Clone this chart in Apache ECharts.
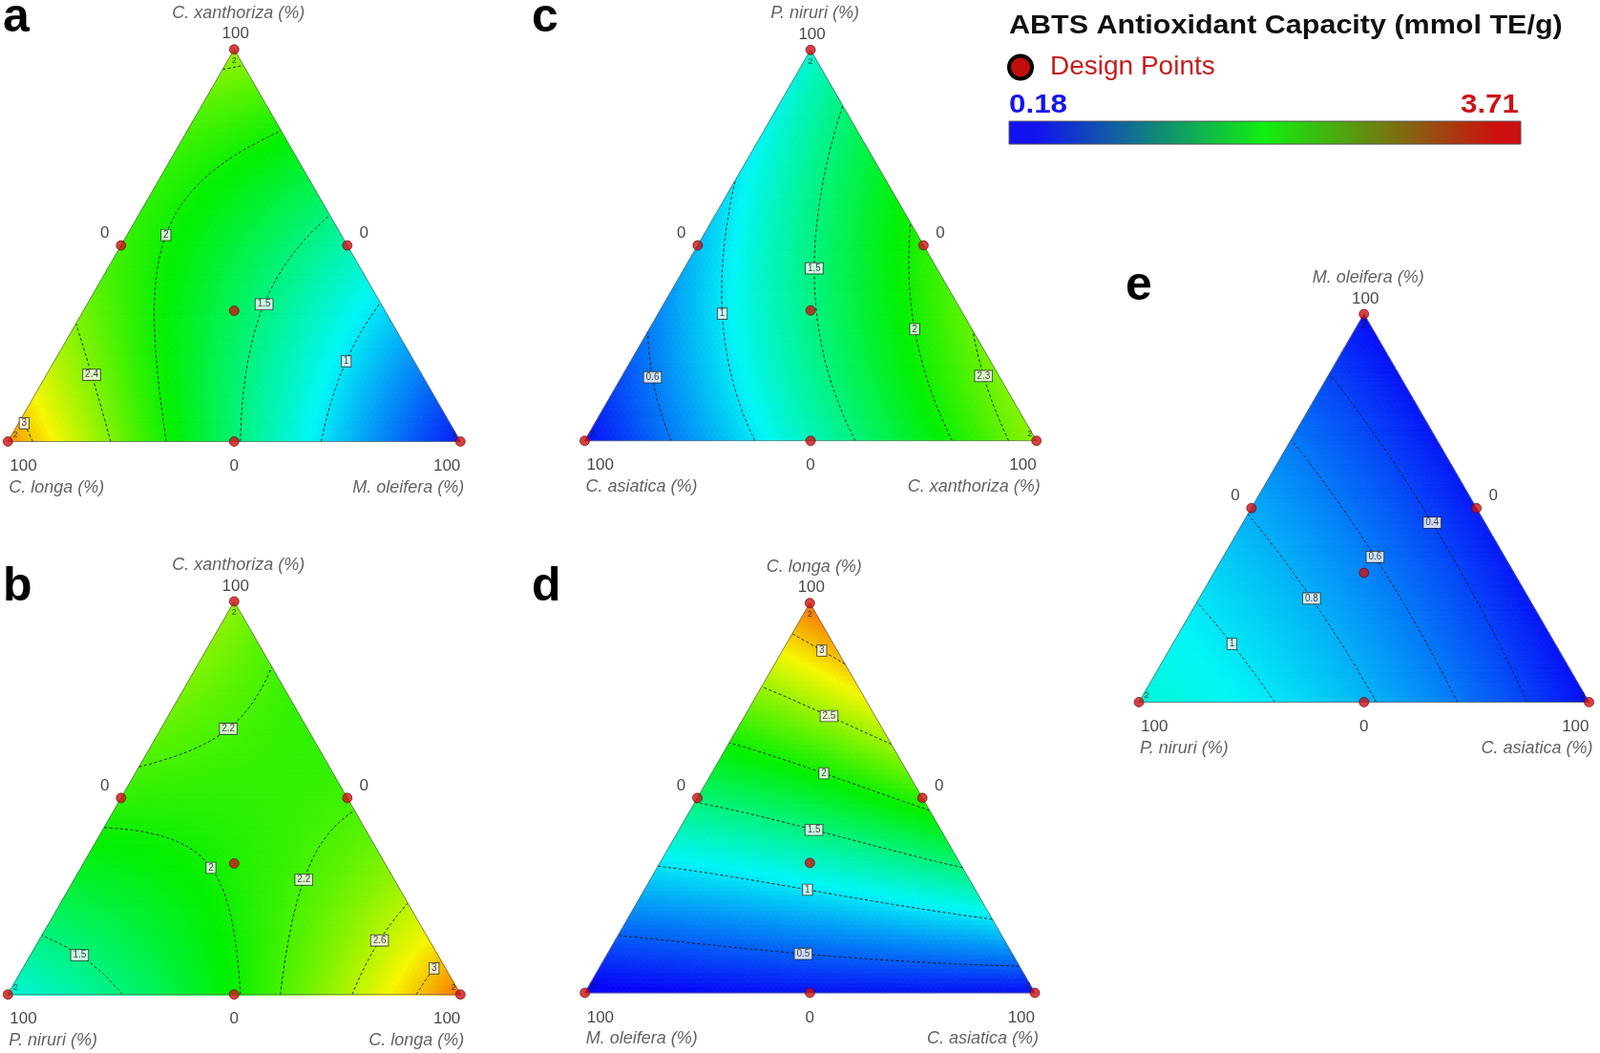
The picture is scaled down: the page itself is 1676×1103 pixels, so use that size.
<!DOCTYPE html>
<html>
<head>
<meta charset="utf-8">
<script src="https://cdn.jsdelivr.net/npm/echarts@6/dist/echarts.min.js"></script>
<style>
html,body{margin:0;padding:0;background:#fff;}
#chart{width:1676px;height:1103px;}
</style>
</head>
<body>
<div id="chart"></div>
<script>
// ---------------- DATA ----------------
const panelLetters   = ['a', 'b', 'c', 'd', 'e'];
const topComponent   = ['C. xanthoriza', 'C. xanthoriza', 'P. niruri', 'C. longa', 'M. oleifera'];
const leftComponent  = ['C. longa', 'P. niruri', 'C. asiatica', 'M. oleifera', 'P. niruri'];
const rightComponent = ['M. oleifera', 'C. longa', 'C. xanthoriza', 'C. asiatica', 'C. asiatica'];

// design points: proportions of (top, left, right) component
const designTop   = [1, 0, 0, 0.5, 0,   0.5, 1/3];
const designLeft  = [0, 1, 0, 0.5, 0.5, 0,   1/3];
const designRight = [0, 0, 1, 0,   0.5, 0.5, 1/3];

// ABTS response (mmol TE/g) at the design points, one value per panel a..e
const respTopVertex    = [2.50, 2.45, 1.20, 3.30, 0.20];
const respLeftVertex   = [3.20, 1.15, 0.20, 0.12, 1.18];
const respRightVertex  = [0.25, 3.30, 2.45, 0.20, 0.20];
const respTopLeftMid   = [2.15, 2.105, 0.85, 1.535, 0.785];
const respLeftRightMid = [1.54, 1.97, 1.275, 0.22, 0.8275];
const respTopRightMid  = [1.325, 2.17, 2.075, 2.10, 0.25];
const respCentroid     = [1.625, 2.045, 1.47, 1.22, 0.65];

const contourLevels = [
  [3, 2.4, 2, 1.5, 1],
  [3, 2.6, 2.2, 2, 1.5],
  [2.3, 2, 1.5, 1, 0.6],
  [3, 2.5, 2, 1.5, 1, 0.5],
  [1, 0.8, 0.6, 0.4]
];
const replicateCounts = [[2, 2, 2], [2, 2, 2], [2, 2, 2], [2, 2, 2], [2, 2, 2]];
const vertexTick = '100';
const zeroTick = '0';
const colorMin = 0.18;
const colorMax = 3.71;
const legendTitle = 'ABTS Antioxidant Capacity (mmol TE/g)';
const legendPoints = 'Design Points';

// ---------------- LAYOUT ----------------
const panelBox = [
  [8.3, 51.7, 474, 410.8],
  [8.3, 630, 474, 411.7],
  [612.5, 52.3, 473.2, 409.4],
  [612.7, 631.7, 471.3, 408.3],
  [1193, 329, 471.5, 406.5]
];
const letterPos = [[3, 36.7], [3, 633], [557, 36.7], [557, 633], [1179, 318]];
// approximate places of the contour labels (x across base, y = height fraction)
const contourLabelHints = [
  [[3,0.039,0.047],[2.4,0.197,0.176],[2,0.373,0.517],[1.5,0.572,0.352],[1,0.728,0.217]],
  [[2.2,0.489,0.672],[2,0.450,0.317],[2.2,0.661,0.291],[2.6,0.801,0.155],[1.5,0.158,0.101],[3,0.964,0.053]],
  [[0.6,0.170,0.168],[1,0.322,0.330],[1.5,0.512,0.44],[2,0.724,0.281],[2.3,0.879,0.165]],
  [[3,0.528,0.878],[2.5,0.537,0.694],[2,0.525,0.551],[1.5,0.5105,0.414],[1,0.4999,0.274],[0.5,0.486,0.110]],
  [[0.4,0.653,0.465],[0.6,0.526,0.375],[0.8,0.395,0.278],[1,0.239,0.179]]
];
const MESH = 80;
const FONT = '"Liberation Sans", Arial, Helvetica, sans-serif';

// ---------------- MODEL (Scheffe special cubic through the design points) ----------------
function predict(p, T, L, R) {
  const yT = respTopVertex[p], yL = respLeftVertex[p], yR = respRightVertex[p];
  const mTL = respTopLeftMid[p], mLR = respLeftRightMid[p], mTR = respTopRightMid[p];
  const bTL = 4 * mTL - 2 * (yT + yL);
  const bLR = 4 * mLR - 2 * (yL + yR);
  const bTR = 4 * mTR - 2 * (yT + yR);
  const b123 = 27 * respCentroid[p] - 12 * (mTL + mLR + mTR) + 3 * (yT + yL + yR);
  return yT * T + yL * L + yR * R + bTL * T * L + bLR * L * R + bTR * T * R + b123 * T * L * R;
}
function toXY(T, L, R) { return [R + T / 2, T]; }

function buildPanel(p) {
  const N = MESH;
  const rowStart = []; let count = 0;
  for (let i = 0; i <= N; i++) { rowStart.push(count); count += N - i + 1; }
  const id = (i, c) => rowStart[i] + c;
  const X = new Float64Array(count), Y = new Float64Array(count), V = new Float64Array(count);
  for (let i = 0; i <= N; i++) {
    for (let c = 0; c <= N - i; c++) {
      const T = i / N, R = c / N, L = Math.max(0, 1 - T - R);
      const k = id(i, c);
      const xy = toXY(T, L, R);
      X[k] = xy[0]; Y[k] = xy[1]; V[k] = predict(p, T, L, R);
    }
  }
  const tris = [];
  for (let i = 0; i < N; i++) {
    for (let c = 0; c < N - i; c++) {
      tris.push([id(i, c), id(i, c + 1), id(i + 1, c)]);
      if (c < N - i - 1) tris.push([id(i, c + 1), id(i + 1, c + 1), id(i + 1, c)]);
    }
  }
  const field = tris.map(t => [X[t[0]], Y[t[0]], X[t[1]], Y[t[1]], X[t[2]], Y[t[2]],
    (V[t[0]] + V[t[1]] + V[t[2]]) / 3]);

  const contours = [];
  contourLevels[p].forEach(lv => {
    const segs = []; const pts = new Map();
    tris.forEach(t => {
      const cross = [];
      [[t[0], t[1]], [t[1], t[2]], [t[2], t[0]]].forEach(e => {
        const u = e[0], w = e[1];
        const du = V[u] - lv, dw = V[w] - lv;
        if ((du < 0) !== (dw < 0)) {
          const key = u < w ? u * 1e6 + w : w * 1e6 + u;
          if (!pts.has(key)) {
            const s = du / (du - dw);
            pts.set(key, [X[u] + s * (X[w] - X[u]), Y[u] + s * (Y[w] - Y[u])]);
          }
          cross.push(key);
        }
      });
      if (cross.length === 2) segs.push(cross);
    });
    const adj = new Map();
    segs.forEach((s, k) => s.forEach(key => { if (!adj.has(key)) adj.set(key, []); adj.get(key).push(k); }));
    const used = new Uint8Array(segs.length);
    const walk = start => {
      const chain = [pts.get(start)]; let cur = start;
      while (true) {
        let nxt = -1;
        for (const k of adj.get(cur)) { if (!used[k]) { nxt = k; break; } }
        if (nxt < 0) break;
        used[nxt] = 1;
        const s = segs[nxt];
        cur = s[0] === cur ? s[1] : s[0];
        chain.push(pts.get(cur));
      }
      return chain;
    };
    const chains = [];
    for (const [key, list] of adj) if (list.length === 1 && !used[list[0]]) chains.push(walk(key));
    for (let k = 0; k < segs.length; k++) if (!used[k]) chains.push(walk(segs[k][0]));
    contours.push({ level: lv, chains: chains.filter(c => c.length > 1) });
  });
  return { field, contours };
}

// ---------------- OPTION ----------------
const grids = [], xAxes = [], yAxes = [], series = [], fieldSeriesIdx = [];
const labelBase = { show: true, position: 'inside', fontFamily: FONT, verticalAlign: 'middle' };

for (let p = 0; p < 5; p++) {
  const b = panelBox[p];
  grids.push({ left: b[0], top: b[1], width: b[2], height: b[3], containLabel: false });
  xAxes.push({ gridIndex: p, type: 'value', min: 0, max: 1, show: false });
  yAxes.push({ gridIndex: p, type: 'value', min: 0, max: 1, show: false });
  const built = buildPanel(p);

  fieldSeriesIdx.push(series.length);
  series.push({
    type: 'custom', xAxisIndex: p, yAxisIndex: p, silent: true, z: 1,
    renderItem: (params, api) => {
      const a = api.coord([api.value(0), api.value(1)]);
      const bb = api.coord([api.value(2), api.value(3)]);
      const c = api.coord([api.value(4), api.value(5)]);
      const col = api.visual('color');
      return { type: 'polygon', shape: { points: [a, bb, c] }, style: { fill: col, stroke: col, lineWidth: 0.8 } };
    },
    data: built.field
  });

  const lineData = [];
  built.contours.forEach(ct => ct.chains.forEach(ch => lineData.push({ coords: ch })));
  series.push({
    type: 'lines', coordinateSystem: 'cartesian2d', xAxisIndex: p, yAxisIndex: p,
    polyline: true, silent: true, z: 3,
    lineStyle: { color: '#111', width: 1, type: [3, 2.5], opacity: 0.9 },
    data: lineData
  });

  series.push({
    type: 'line', xAxisIndex: p, yAxisIndex: p, silent: true, z: 4, showSymbol: false,
    lineStyle: { color: '#6a6a6a', width: 0.8 },
    data: [toXY(0, 1, 0), toXY(0, 0, 1), toXY(1, 0, 0), toXY(0, 1, 0)]
  });

  const W = b[2], H = b[3];
  const labelData = [];
  contourLabelHints[p].forEach(h => {
    const ct = built.contours.find(c => c.level === h[0]);
    if (!ct) return;
    let best = null, bd = Infinity;
    ct.chains.forEach(ch => ch.forEach(pt => {
      const d = Math.pow((pt[0] - h[1]) * W, 2) + Math.pow((pt[1] - h[2]) * H, 2);
      if (d < bd) { bd = d; best = pt; }
    }));
    if (best) labelData.push({ name: String(h[0]), value: best });
  });
  series.push({
    type: 'scatter', xAxisIndex: p, yAxisIndex: p, silent: true, z: 6,
    symbolSize: 1, itemStyle: { color: 'rgba(0,0,0,0)' },
    label: Object.assign({}, labelBase, {
      formatter: '{b}', fontSize: 10, color: '#111', backgroundColor: '#fff',
      borderColor: '#222', borderWidth: 0.8, padding: [1, 2, 0, 2]
    }),
    data: labelData
  });

  const P = k => toXY(designTop[k], designLeft[k], designRight[k]);
  const tick = { fontSize: 17, color: '#161616' };
  const nameSt = { fontSize: 18, color: '#3a3a3a', fontStyle: 'italic' };
  const rep = { fontSize: 9, color: '#1a1a1a' };
  const tickData = [
    { name: vertexTick, value: P(0), label: Object.assign({ offset: [1.5, -16] }, tick) },
    { name: topComponent[p] + ' (%)', value: P(0), label: Object.assign({ offset: [4.5, -38] }, nameSt) },
    { name: zeroTick, value: P(3), label: Object.assign({ offset: [-17, -13] }, tick) },
    { name: zeroTick, value: P(5), label: Object.assign({ offset: [17.5, -13] }, tick) },
    { name: vertexTick, value: P(1), label: Object.assign({ align: 'left', offset: [2, 26] }, tick) },
    { name: zeroTick, value: P(4), label: Object.assign({ offset: [0, 26] }, tick) },
    { name: vertexTick, value: P(2), label: Object.assign({ align: 'right', offset: [0, 26] }, tick) },
    { name: leftComponent[p] + ' (%)', value: P(1), label: Object.assign({ align: 'left', offset: [1, 48] }, nameSt) },
    { name: rightComponent[p] + ' (%)', value: P(2), label: Object.assign({ align: 'right', offset: [4, 48] }, nameSt) },
    { name: String(replicateCounts[p][0]), value: P(0), label: Object.assign({ offset: [0, 12] }, rep) },
    { name: String(replicateCounts[p][1]), value: P(1), label: Object.assign({ offset: [8, -7] }, rep) },
    { name: String(replicateCounts[p][2]), value: P(2), label: Object.assign({ offset: [-7, -7] }, rep) }
  ];
  series.push({
    type: 'scatter', xAxisIndex: p, yAxisIndex: p, silent: true, z: 7,
    symbolSize: 1, itemStyle: { color: 'rgba(0,0,0,0)' },
    label: Object.assign({}, labelBase, { formatter: '{b}' }),
    data: tickData
  });

  const dp = designTop.map((t, k) => toXY(t, designLeft[k], designRight[k]));
  series.push({
    type: 'scatter', xAxisIndex: p, yAxisIndex: p, silent: true, z: 8,
    symbol: 'circle', symbolSize: 10,
    itemStyle: { color: '#cc1111', borderColor: '#6a0000', borderWidth: 0.8 },
    data: dp
  });
}

const bold = fs => 'bold ' + fs + 'px ' + FONT;
const graphic = [
  { type: 'text', x: 1057, y: 28, scaleX: 1.13, style: { text: legendTitle, font: bold(27), fill: '#111', textVerticalAlign: 'middle', verticalAlign: 'middle' } },
  { type: 'circle', shape: { cx: 1069, cy: 70.5, r: 12 }, style: { fill: '#c40e0e', stroke: '#000', lineWidth: 4 } },
  { type: 'text', x: 1100, y: 70, style: { text: legendPoints, font: '28px ' + FONT, fill: '#c81c1c', textVerticalAlign: 'middle', verticalAlign: 'middle' } },
  { type: 'text', x: 1057, y: 110, scaleX: 1.12, style: { text: colorMin.toFixed(2), font: bold(28), fill: '#1414f0', textVerticalAlign: 'middle', verticalAlign: 'middle' } },
  { type: 'text', x: 1591, y: 110, scaleX: 1.12, style: { text: colorMax.toFixed(2), font: bold(28), fill: '#cc1414', textAlign: 'right', align: 'right', textVerticalAlign: 'middle', verticalAlign: 'middle' } },
  { type: 'rect', shape: { x: 1057, y: 127, width: 536, height: 24 },
    style: { fill: new echarts.graphic.LinearGradient(0, 0, 1, 0, [
      { offset: 0, color: '#1212f0' }, { offset: 0.05, color: '#1212f0' },
      { offset: 0.5, color: '#10f010' },
      { offset: 0.95, color: '#cc1010' }, { offset: 1, color: '#cc1010' }]),
      stroke: '#555', lineWidth: 1 } }
];
panelLetters.forEach((l, p) => {
  graphic.push({ type: 'text', x: letterPos[p][0], y: letterPos[p][1] - 17.3,
    style: { text: l, font: bold(50), fill: '#000', textVerticalAlign: 'middle', verticalAlign: 'middle' } });
});

const chart = echarts.init(document.getElementById('chart'), null, { renderer: 'canvas' });
chart.setOption({
  backgroundColor: '#ffffff',
  animation: false,
  textStyle: { fontFamily: FONT },
  grid: grids, xAxis: xAxes, yAxis: yAxes,
  visualMap: {
    type: 'continuous', show: false, min: colorMin, max: colorMax, dimension: 6,
    seriesIndex: fieldSeriesIdx,
    inRange: { color: ['#0606f8', '#00f6f6', '#00f000', '#f6f600', '#f60000'] }
  },
  series: series,
  graphic: graphic
});
</script>
</body>
</html>
